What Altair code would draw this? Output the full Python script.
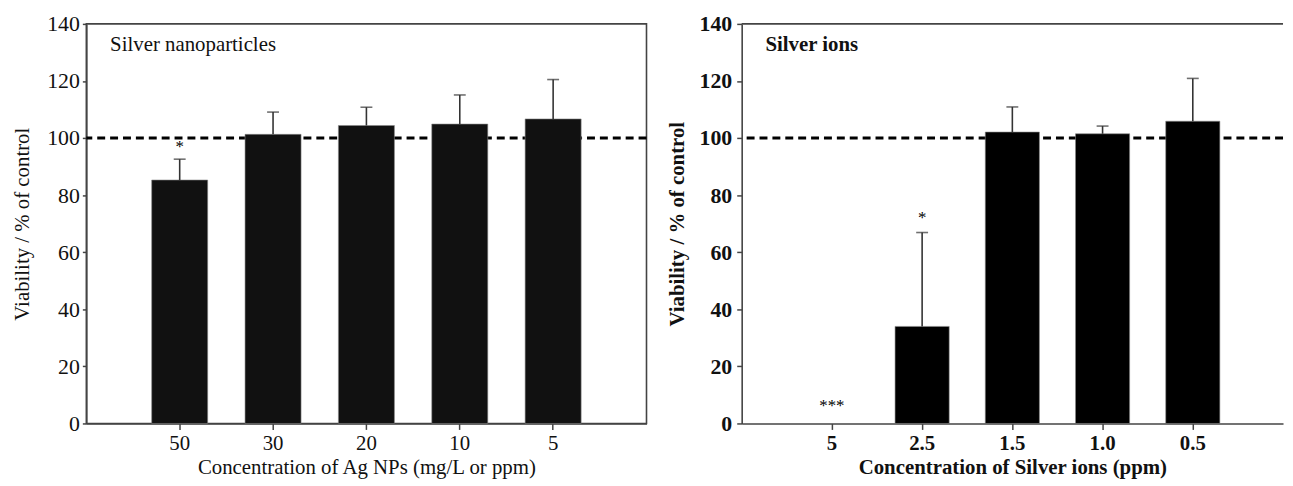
import altair as alt
import pandas as pd

# ---- data ----
np_categories = ["50", "30", "20", "10", "5"]
np_viability = [85.3, 101.3, 104.4, 104.9, 106.7]
np_error = [7.3, 7.8, 6.4, 10.2, 13.8]
np_star_cats = ["50"]
np_star_text = ["*"]
np_star_y = [97]

ion_categories = ["5", "2.5", "1.5", "1.0", "0.5"]
ion_viability = [0.0, 34.0, 102.1, 101.5, 105.9]
ion_error = [None, 32.9, 8.8, 2.7, 15.0]
ion_star_cats = ["5", "2.5"]
ion_star_text = ["***", "*"]
ion_star_y = [6, 72]

y_ticks = [0, 20, 40, 60, 80, 100, 120, 140]
control_level = [100]

FONT = "Liberation Serif"
AX = "#444444"


def panel(cats, vals, errs, star_cats, star_text, star_y, label, xtitle,
          weight, bar_color, width, height, boxed, ytick, ypad, ytitlepad):
    df = pd.DataFrame({"cat": cats, "v": vals, "e": errs})
    df["top"] = df["v"] + df["e"]
    err_df = df.dropna(subset=["e"])
    stars = pd.DataFrame({"cat": star_cats, "s": star_text, "y": star_y})

    xscale = alt.Scale(domain=cats, paddingInner=0.4, paddingOuter=0.7)
    yscale = alt.Scale(domain=[0, 140], nice=False)
    xaxis = alt.Axis(title=xtitle, labelAngle=0, labelFont=FONT, titleFont=FONT,
                     labelFontSize=21, titleFontSize=21, labelFontWeight=weight,
                     titleFontWeight=weight, labelColor="#111", titleColor="#111",
                     tickSize=6, labelPadding=3, titlePadding=3, domainColor=AX,
                     tickColor=AX, domainWidth=1.6, tickWidth=1.5)
    yaxis = alt.Axis(title="Viability / % of control", values=y_ticks, grid=False,
                     labelFont=FONT, titleFont=FONT, labelFontSize=22, titleFontSize=21,
                     labelFontWeight=weight, titleFontWeight=weight,
                     labelColor="#111", titleColor="#111", tickSize=ytick,
                     labelPadding=ypad, titlePadding=ytitlepad, domainColor=AX,
                     tickColor=AX, domainWidth=1.6, tickWidth=1.5)

    base = alt.Chart(df)
    ref = alt.Chart(pd.DataFrame({"c": control_level})).mark_rule(
        color="#000", strokeWidth=3, strokeDash=[8, 5]
    ).encode(y=alt.Y("c:Q", scale=yscale, axis=yaxis))
    bars = base.transform_filter("datum.v > 0").mark_bar(
        color=bar_color, stroke="#888", strokeWidth=0.6).encode(
        x=alt.X("cat:N", scale=xscale, axis=xaxis, sort=cats),
        y=alt.Y("v:Q", scale=yscale, axis=yaxis),
    )
    whisk = alt.Chart(err_df).mark_rule(color="#333", strokeWidth=1.6).encode(
        x=alt.X("cat:N", scale=xscale, sort=cats), y="v:Q", y2="top:Q")
    cap = alt.Chart(err_df).mark_tick(color="#333", thickness=1.6, size=12).encode(
        x=alt.X("cat:N", scale=xscale, sort=cats), y="top:Q")
    star = alt.Chart(stars).mark_text(font=FONT, fontSize=17, color="#000",
                                      baseline="middle").encode(
        x=alt.X("cat:N", scale=xscale, sort=cats), y="y:Q", text="s:N")
    lab = alt.Chart(pd.DataFrame({"t": [label]})).mark_text(
        font=FONT, fontSize=21, fontWeight=weight, align="left", baseline="middle",
        color="#111").encode(text="t:N", x=alt.value(24), y=alt.value(21))
    layers = [ref, bars, whisk, cap, star, lab]
    if not boxed:
        top = alt.Chart(pd.DataFrame({"t": [140]})).mark_rule(
            color=AX, strokeWidth=1.6).encode(y="t:Q")
        layers.append(top)
    ch = alt.layer(*layers).properties(width=width, height=height)
    if boxed:
        ch = ch.properties(view=alt.ViewConfig(stroke=AX, strokeWidth=1.6))
    else:
        ch = ch.properties(view=alt.ViewConfig(stroke="transparent", strokeWidth=0))
    return ch


left = panel(np_categories, np_viability, np_error, np_star_cats, np_star_text,
             np_star_y, "Silver nanoparticles", "Concentration of Ag NPs (mg/L or ppm)",
             "normal", "#111111", 565, 403, True, 4, 3, 14)
right = panel(ion_categories, ion_viability, ion_error, ion_star_cats, ion_star_text,
              ion_star_y, "Silver ions", "Concentration of Silver ions (ppm)",
              "bold", "#000000", 546, 403, False, 5, 5, 12)

chart = alt.hconcat(left, right, spacing=17).properties(
    padding={"left": 3, "top": 2, "right": 0, "bottom": 0},
    background="white",
).configure_view(stroke=None)

chart.save("out.html", embed_options={"renderer": "svg", "actions": False})
